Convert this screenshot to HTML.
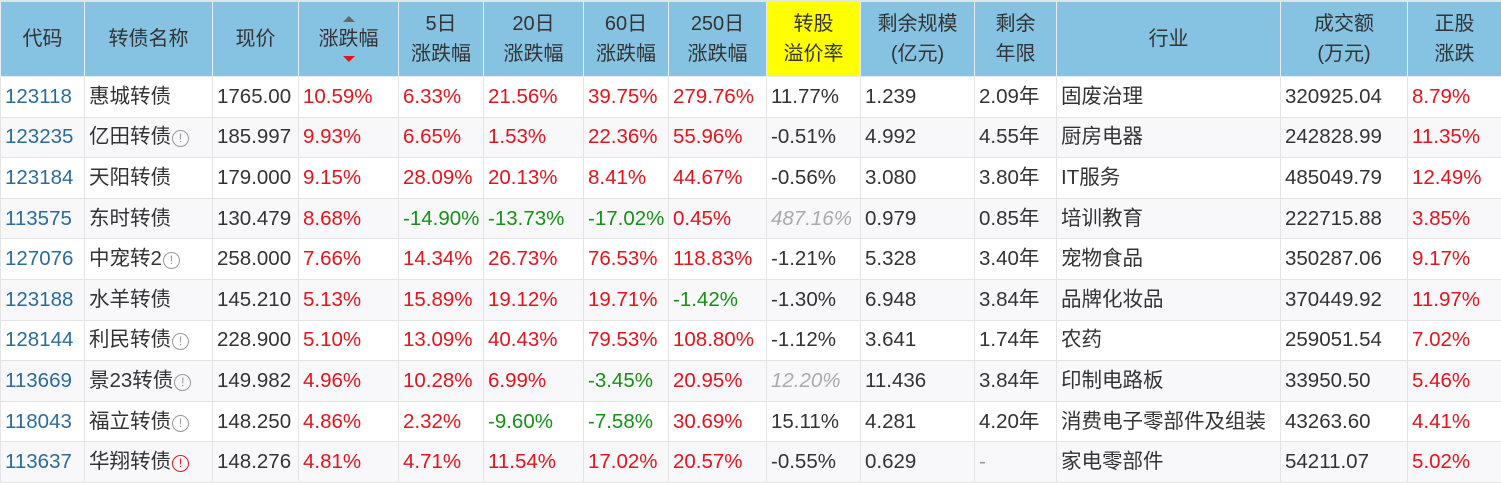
<!DOCTYPE html><html><head><meta charset="utf-8"><style>
body{margin:0;width:1501px;height:482px;overflow:hidden;background:#fff;font-family:"Liberation Sans","Noto Sans CJK SC",sans-serif;}
table{border-collapse:collapse;table-layout:fixed;width:1501px;font-size:20.5px;color:#333;}
th{background:#86c3e3;font-weight:normal;font-size:20px;height:74px;border:1px solid #e6eef4;border-top:2px solid #dfe6ea;line-height:30px;color:#333;padding:0;}
td{height:39.6px;line-height:24px;border:1px solid #e4e4e4;padding:0 4px;white-space:nowrap;overflow:hidden;}
tr:nth-child(odd) td{background:#f8f8fa}
.c{color:#2a6c9c}.r{color:#e3141c}.g{color:#159115}.i{color:#aaa;font-style:italic}
.y{background:#ffff00!important}
.q{display:inline-block;width:15px;height:15px;border:1.5px solid #999;border-radius:50%;font-size:12px;line-height:15px;text-align:center;color:#999;vertical-align:1px;margin-left:1px;font-family:"Liberation Sans",sans-serif}
.qr{border-color:#e3141c;color:#e3141c}
.s{position:relative}
.up,.dn{position:absolute;left:50%;margin-left:-6px;width:0;height:0;border-left:6px solid transparent;border-right:6px solid transparent}
.up{top:14px;border-bottom:6px solid #666}.dn{bottom:14px;border-top:6px solid #e3141c}
</style></head><body>
<table>
<colgroup><col style="width:84px"><col style="width:128px"><col style="width:86px"><col style="width:100px"><col style="width:85px"><col style="width:100px"><col style="width:85px"><col style="width:98px"><col style="width:94px"><col style="width:114px"><col style="width:82px"><col style="width:224px"><col style="width:127px"><col style="width:94px"></colgroup>
<tr><th>代码</th><th>转债名称</th><th>现价</th><th class="s"><span class="up"></span>涨跌幅<span class="dn"></span></th><th>5日<br>涨跌幅</th><th>20日<br>涨跌幅</th><th>60日<br>涨跌幅</th><th>250日<br>涨跌幅</th><th class="y">转股<br>溢价率</th><th>剩余规模<br>(亿元)</th><th>剩余<br>年限</th><th>行业</th><th>成交额<br>(万元)</th><th>正股<br>涨跌</th></tr>
<tr><td class="c">123118</td><td>惠城转债</td><td>1765.00</td><td class="r">10.59%</td><td class="r">6.33%</td><td class="r">21.56%</td><td class="r">39.75%</td><td class="r">279.76%</td><td>11.77%</td><td>1.239</td><td>2.09年</td><td>固废治理</td><td>320925.04</td><td class="r">8.79%</td></tr>
<tr><td class="c">123235</td><td>亿田转债<span class="q">!</span></td><td>185.997</td><td class="r">9.93%</td><td class="r">6.65%</td><td class="r">1.53%</td><td class="r">22.36%</td><td class="r">55.96%</td><td>-0.51%</td><td>4.992</td><td>4.55年</td><td>厨房电器</td><td>242828.99</td><td class="r">11.35%</td></tr>
<tr><td class="c">123184</td><td>天阳转债</td><td>179.000</td><td class="r">9.15%</td><td class="r">28.09%</td><td class="r">20.13%</td><td class="r">8.41%</td><td class="r">44.67%</td><td>-0.56%</td><td>3.080</td><td>3.80年</td><td>IT服务</td><td>485049.79</td><td class="r">12.49%</td></tr>
<tr><td class="c">113575</td><td>东时转债</td><td>130.479</td><td class="r">8.68%</td><td class="g">-14.90%</td><td class="g">-13.73%</td><td class="g">-17.02%</td><td class="r">0.45%</td><td class="i">487.16%</td><td>0.979</td><td>0.85年</td><td>培训教育</td><td>222715.88</td><td class="r">3.85%</td></tr>
<tr><td class="c">127076</td><td>中宠转2<span class="q">!</span></td><td>258.000</td><td class="r">7.66%</td><td class="r">14.34%</td><td class="r">26.73%</td><td class="r">76.53%</td><td class="r">118.83%</td><td>-1.21%</td><td>5.328</td><td>3.40年</td><td>宠物食品</td><td>350287.06</td><td class="r">9.17%</td></tr>
<tr><td class="c">123188</td><td>水羊转债</td><td>145.210</td><td class="r">5.13%</td><td class="r">15.89%</td><td class="r">19.12%</td><td class="r">19.71%</td><td class="g">-1.42%</td><td>-1.30%</td><td>6.948</td><td>3.84年</td><td>品牌化妆品</td><td>370449.92</td><td class="r">11.97%</td></tr>
<tr><td class="c">128144</td><td>利民转债<span class="q">!</span></td><td>228.900</td><td class="r">5.10%</td><td class="r">13.09%</td><td class="r">40.43%</td><td class="r">79.53%</td><td class="r">108.80%</td><td>-1.12%</td><td>3.641</td><td>1.74年</td><td>农药</td><td>259051.54</td><td class="r">7.02%</td></tr>
<tr><td class="c">113669</td><td>景23转债<span class="q">!</span></td><td>149.982</td><td class="r">4.96%</td><td class="r">10.28%</td><td class="r">6.99%</td><td class="g">-3.45%</td><td class="r">20.95%</td><td class="i">12.20%</td><td>11.436</td><td>3.84年</td><td>印制电路板</td><td>33950.50</td><td class="r">5.46%</td></tr>
<tr><td class="c">118043</td><td>福立转债<span class="q">!</span></td><td>148.250</td><td class="r">4.86%</td><td class="r">2.32%</td><td class="g">-9.60%</td><td class="g">-7.58%</td><td class="r">30.69%</td><td>15.11%</td><td>4.281</td><td>4.20年</td><td>消费电子零部件及组装</td><td>43263.60</td><td class="r">4.41%</td></tr>
<tr><td class="c">113637</td><td>华翔转债<span class="q qr">!</span></td><td>148.276</td><td class="r">4.81%</td><td class="r">4.71%</td><td class="r">11.54%</td><td class="r">17.02%</td><td class="r">20.57%</td><td>-0.55%</td><td>0.629</td><td style="color:#999">-</td><td>家电零部件</td><td>54211.07</td><td class="r">5.02%</td></tr>
</table></body></html>
